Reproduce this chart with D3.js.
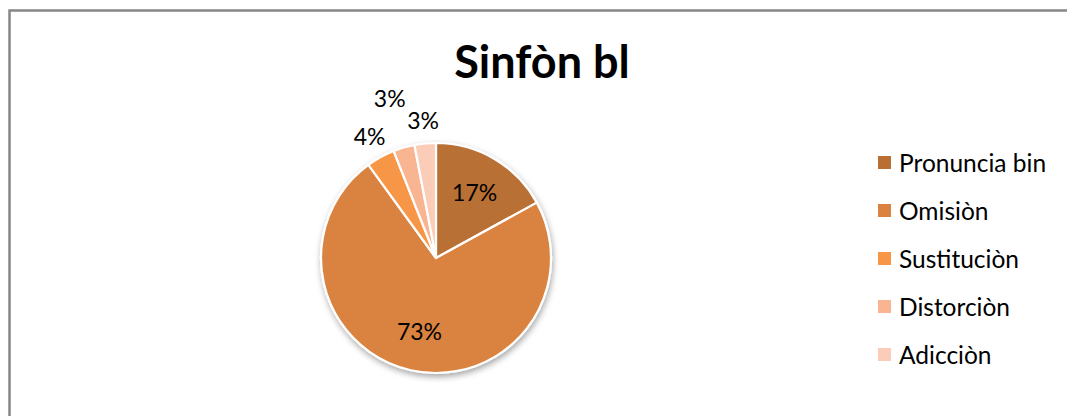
<title>Sinfòn bl</title>
<style>
  body { margin: 0; background: #fff; }
  svg { display: block; font-family: Lato, "Open Sans", sans-serif; }
</style>
<svg id="chart"></svg>
<script src="https://d3js.org/d3.v7.min.js"></script>
<script>
  // data
  var categories = ["Pronuncia bin", "Omisiòn", "Sustituciòn", "Distorciòn", "Adicciòn"];
  var values = [17, 73, 4, 3, 3];
  var colors = ["#b96f34", "#da8340", "#f79646", "#f9b592", "#fbcdb9"];
  var title = "Sinfòn bl";

  var width = 1067, height = 416;
  var cx = 436, cy = 258, radius = 115;

  var svg = d3.select("#chart")
      .attr("width", width)
      .attr("height", height);

  // shadow under the pie
  var defs = svg.append("defs");
  var f = defs.append("filter").attr("id", "shadow")
      .attr("x", "-20%").attr("y", "-20%").attr("width", "140%").attr("height", "140%");
  f.append("feDropShadow")
      .attr("dx", 1).attr("dy", 3).attr("stdDeviation", 3)
      .attr("flood-color", "#000").attr("flood-opacity", 0.35);

  // frame
  svg.append("rect")
      .attr("x", 9.5).attr("y", 10.5)
      .attr("width", width + 10).attr("height", height + 10)
      .attr("fill", "#fff")
      .attr("stroke", "#878787")
      .attr("stroke-width", 2.5);

  // title
  svg.append("text")
      .attr("x", 542).attr("y", 78)
      .attr("text-anchor", "middle")
      .attr("font-size", 45)
      .attr("font-weight", "bold")
      .attr("fill", "#000")
      .text(title);

  var data = categories.map(function(c, i) {
    return {name: c, value: values[i], color: colors[i]};
  });

  var pie = d3.pie().sort(null).value(function(d) { return d.value; });
  var arcs = pie(data);
  var total = d3.sum(values);

  var arc = d3.arc().innerRadius(0).outerRadius(radius);

  var g = svg.append("g").attr("transform", "translate(" + cx + "," + cy + ")");

  g.append("g").attr("filter", "url(#shadow)")
    .selectAll("path")
    .data(arcs)
    .enter().append("path")
      .attr("d", arc)
      .attr("fill", function(d) { return d.data.color; })
      .attr("stroke", "#fff")
      .attr("stroke-width", 2.2)
      .attr("stroke-linejoin", "round");

  // labels: inside for big slices, outside (pushed out if they collide) for small ones
  var pct = function(d) { return Math.round(d.data.value / total * 100) + "%"; };
  var placed = [];
  var lw = 40, lh = 22;

  arcs.slice().reverse().forEach(function(d) {
    var share = d.data.value / total;
    var pos;
    if (share > 0.1) {
      var r = radius * 0.66;
      pos = d3.arc().innerRadius(r).outerRadius(r).centroid(d);
    } else {
      var r = radius * 1.2;
      while (true) {
        pos = d3.arc().innerRadius(r).outerRadius(r).centroid(d);
        var hit = placed.some(function(p) {
          return Math.abs(p[0] - pos[0]) < lw && Math.abs(p[1] - pos[1]) < lh;
        });
        if (!hit) break;
        r += 4;
      }
      placed.push(pos);
    }
    g.append("text")
      .attr("x", pos[0]).attr("y", pos[1])
      .attr("dy", "0.35em")
      .attr("text-anchor", "middle")
      .attr("font-size", 23)
      .attr("fill", "#000")
      .text(pct(d));
  });

  // legend
  var legend = svg.append("g").attr("transform", "translate(878,162)");
  var item = legend.selectAll("g")
    .data(data)
    .enter().append("g")
      .attr("transform", function(d, i) { return "translate(0," + (i * 48) + ")"; });

  item.append("rect")
      .attr("x", 0).attr("y", -6)
      .attr("width", 13).attr("height", 13)
      .attr("fill", function(d) { return d.color; });

  item.append("text")
      .attr("x", 21).attr("y", 1)
      .attr("dy", "0.35em")
      .attr("font-size", 24.5)
      .attr("fill", "#000")
      .text(function(d) { return d.name; });
</script>
